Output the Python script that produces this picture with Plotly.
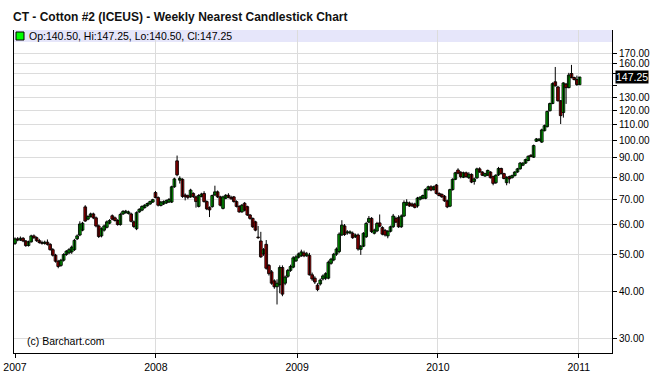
import math
import pandas as pd
import plotly.graph_objects as go

# ---- data: weekly nearest cotton futures ----
start_week = "2007-01-01"

open_prices = [
    53.5, 55.0, 54.6, 55.2, 54.3, 52.8, 54.0, 56.0, 55.4, 54.4, 53.8, 53.5, 53.9, 53.2, 51.5, 49.8, 48.0, 46.8, 48.3, 50.0,
    50.5, 50.8, 51.5, 55.0, 56.3, 58.0, 66.8, 62.0, 63.0, 64.0, 62.5, 59.5, 56.0, 58.0, 59.0, 60.5, 63.3, 62.5, 61.5, 60.0,
    64.0, 64.5, 64.2, 64.0, 61.0, 58.5, 64.8, 65.5, 66.5, 67.3, 68.0, 68.8,
    72.9, 70.7, 67.4, 68.0, 68.4, 68.8, 68.8, 75.5, 88.4, 78.6, 79.0, 71.8, 71.5, 71.0, 72.5, 71.0, 67.0, 71.2, 72.5, 69.0,
    66.5, 66.9, 71.8, 73.2, 71.0, 66.2, 70.4, 71.7, 70.8, 71.0, 69.0, 67.0, 64.8, 68.3, 66.9, 63.6, 62.3, 61.0, 55.6, 54.3,
    50.2, 53.2, 46.8, 45.0, 42.6, 41.1, 41.6, 46.2, 42.0, 43.8, 45.4, 46.3, 48.1,
    49.2, 49.6, 50.5, 49.6, 49.7, 44.2, 43.3, 41.5, 41.8, 43.1, 43.3, 43.3, 47.4, 48.4, 50.1, 50.9, 56.3, 59.5, 57.0, 57.0,
    56.9, 55.7, 56.3, 51.6, 52.6, 55.7, 60.9, 62.3, 56.9, 57.7, 60.6, 58.9, 57.9, 56.0, 57.6, 59.2, 62.3, 62.6, 59.2, 63.2,
    67.6, 68.4, 68.0, 68.0, 67.2, 70.0, 70.4, 70.4, 74.2, 75.5, 74.2, 76.3,
    72.5, 72.1, 71.3, 69.3, 67.1, 74.2, 79.0, 83.6, 82.5, 80.0, 82.2, 79.8, 81.4, 78.0, 79.7, 84.2, 82.6, 80.6, 81.0, 82.6,
    80.3, 77.4, 81.2, 84.4, 81.8, 77.4, 80.3, 79.8, 80.8, 82.6, 84.2, 86.1, 87.2, 88.6, 91.5, 90.4, 99.6, 100.0, 99.1, 106.2,
    108.8, 119.9, 125.3, 143.0, 138.6, 127.4, 118.6, 141.0, 138.0, 150.4, 146.8, 145.0, 140.5,
]
high_prices = [
    55.5, 55.6, 55.8, 55.6, 54.6, 54.4, 56.4, 56.5, 55.8, 55.0, 54.4, 54.4, 54.8, 53.6, 52.0, 50.2, 48.4, 48.7, 50.4, 51.4,
    52.0, 52.8, 55.0, 56.5, 61.2, 61.0, 67.5, 63.5, 64.5, 64.5, 63.0, 60.0, 59.0, 60.0, 61.5, 62.0, 63.8, 63.0, 62.0, 64.5,
    65.5, 65.6, 65.3, 64.5, 61.5, 65.0, 66.3, 67.4, 67.9, 68.6, 69.4, 70.2,
    73.6, 71.2, 69.3, 69.5, 69.9, 70.5, 76.0, 79.8, 91.3, 80.5, 79.5, 72.5, 72.0, 74.6, 73.0, 71.5, 72.2, 72.8, 73.5, 69.5,
    67.0, 72.0, 76.0, 73.8, 71.5, 71.5, 72.2, 72.6, 71.5, 71.4, 69.5, 67.5, 68.0, 68.8, 67.3, 64.0, 62.6, 61.4, 59.5, 57.4,
    52.0, 54.6, 47.2, 45.5, 43.0, 43.0, 46.8, 46.8, 44.0, 45.8, 47.0, 49.5, 49.8,
    50.6, 51.5, 51.2, 50.8, 50.5, 44.8, 43.8, 42.0, 43.2, 44.3, 44.9, 48.2, 49.0, 50.5, 52.2, 57.2, 61.6, 60.2, 58.0, 57.9,
    57.5, 56.8, 56.8, 53.0, 57.3, 61.0, 63.2, 62.8, 58.5, 61.0, 63.8, 59.4, 58.4, 58.0, 59.6, 64.0, 63.0, 63.5, 63.8, 69.5,
    70.0, 69.0, 68.6, 68.5, 71.0, 71.3, 72.0, 74.8, 76.0, 76.2, 76.0, 76.8,
    73.0, 72.5, 71.8, 69.8, 74.6, 79.5, 82.7, 84.5, 83.0, 82.8, 82.8, 82.5, 81.9, 79.8, 84.8, 85.0, 83.0, 82.2, 83.8, 83.0,
    80.8, 81.5, 85.2, 84.8, 82.2, 80.5, 80.8, 81.3, 83.0, 84.7, 87.8, 87.7, 89.6, 91.4, 92.0, 97.6, 101.6, 101.5, 107.5, 110.2,
    120.0, 126.0, 142.5, 156.5, 139.2, 128.0, 142.6, 142.0, 151.0, 158.5, 147.5, 148.5, 147.25,
]
low_prices = [
    53.0, 54.2, 54.3, 53.9, 52.4, 52.5, 53.8, 55.0, 54.0, 53.4, 53.1, 53.1, 52.8, 51.2, 49.4, 47.6, 46.0, 46.4, 47.9, 49.6,
    50.1, 50.2, 51.1, 54.6, 55.9, 57.6, 61.0, 61.6, 62.6, 62.0, 59.0, 55.3, 55.5, 57.5, 58.6, 60.1, 61.6, 61.1, 59.6, 59.6,
    63.6, 64.1, 63.8, 60.8, 58.8, 58.0, 64.4, 65.1, 66.1, 66.9, 67.6, 68.4,
    70.4, 67.0, 67.0, 67.6, 68.0, 68.4, 68.4, 75.0, 80.5, 77.0, 70.6, 69.5, 70.0, 70.6, 70.5, 66.5, 66.6, 70.8, 68.6, 65.5,
    62.8, 66.5, 71.5, 70.5, 67.0, 65.8, 70.0, 70.4, 69.8, 68.6, 66.6, 64.5, 64.5, 65.0, 63.2, 61.8, 58.8, 57.6, 55.0, 49.0,
    49.6, 45.6, 44.0, 41.6, 40.6, 36.9, 39.5, 38.8, 41.5, 43.4, 45.0, 46.0, 47.8,
    48.8, 49.3, 49.2, 49.3, 44.0, 42.6, 41.8, 40.0, 41.4, 42.7, 42.8, 43.0, 47.0, 48.0, 49.6, 50.4, 56.0, 56.0, 56.4, 56.6,
    55.0, 55.3, 51.2, 49.9, 52.3, 55.3, 60.5, 57.0, 56.5, 57.3, 59.0, 56.2, 55.8, 55.2, 57.2, 58.8, 60.5, 58.8, 58.8, 62.8,
    67.2, 66.8, 66.8, 66.2, 66.5, 69.5, 70.0, 70.0, 73.8, 73.5, 73.8, 72.0,
    71.2, 70.6, 68.9, 66.3, 66.7, 73.8, 78.6, 81.5, 79.5, 79.6, 79.8, 79.2, 77.2, 76.5, 79.3, 82.2, 80.6, 80.2, 80.6, 79.4,
    76.2, 76.8, 80.6, 81.4, 79.0, 76.2, 77.0, 79.4, 80.4, 82.2, 83.8, 85.6, 86.8, 88.2, 90.4, 90.0, 99.2, 99.6, 98.6, 105.8,
    108.4, 119.4, 124.8, 139.0, 126.8, 110.6, 115.0, 125.0, 137.5, 146.0, 144.2, 139.5, 140.5,
]
close_prices = [
    55.0, 54.6, 55.2, 54.3, 52.8, 54.0, 56.0, 55.4, 54.4, 53.8, 53.5, 53.9, 53.2, 51.5, 49.8, 48.0, 46.5, 48.3, 50.0, 51.0,
    51.5, 52.3, 54.5, 56.0, 60.2, 60.5, 61.3, 63.0, 64.0, 62.5, 59.5, 55.8, 58.5, 59.5, 61.0, 61.5, 62.0, 61.5, 60.0, 63.8,
    65.0, 65.1, 64.8, 61.2, 59.3, 64.5, 65.8, 67.0, 67.5, 68.2, 69.0, 69.8,
    70.7, 67.5, 68.8, 69.0, 69.4, 69.9, 75.5, 79.2, 81.2, 79.5, 71.2, 71.0, 70.8, 74.0, 71.2, 69.0, 71.6, 72.2, 69.0, 66.0,
    65.6, 71.6, 73.2, 71.0, 67.5, 71.0, 71.7, 70.8, 70.2, 69.0, 67.0, 64.8, 67.5, 65.5, 63.6, 62.3, 59.2, 58.0, 55.4, 49.3,
    51.5, 46.0, 44.5, 42.0, 41.1, 42.0, 46.2, 39.3, 43.6, 45.4, 46.5, 49.0, 49.3,
    50.2, 50.8, 49.6, 50.2, 44.2, 43.1, 42.3, 40.4, 42.8, 43.9, 44.5, 47.7, 48.6, 50.1, 51.7, 56.6, 59.8, 56.5, 57.4, 57.4,
    55.4, 56.3, 51.7, 52.6, 56.9, 60.4, 62.3, 57.5, 58.0, 60.4, 59.4, 56.6, 56.3, 57.6, 59.2, 63.2, 60.9, 59.2, 63.2, 68.6,
    68.7, 67.2, 67.2, 66.6, 70.5, 70.9, 71.6, 74.3, 75.5, 74.0, 75.5, 72.5,
    71.6, 71.0, 69.3, 66.8, 74.2, 79.0, 82.2, 82.0, 80.3, 82.2, 80.3, 81.5, 77.7, 79.2, 84.2, 82.6, 81.0, 81.8, 83.4, 79.8,
    77.1, 81.0, 84.4, 81.8, 79.4, 80.0, 79.2, 80.8, 82.6, 84.2, 87.2, 87.2, 89.1, 90.9, 90.8, 97.0, 101.0, 100.9, 106.7, 109.5,
    119.4, 125.3, 141.4, 139.5, 127.4, 116.4, 142.0, 138.0, 149.0, 146.8, 145.0, 140.6, 147.25,
]

year_ticks = ["2007-01-01", "2008-01-01", "2009-01-01", "2010-01-01", "2011-01-01"]
year_labels = ["2007", "2008", "2009", "2010", "2011"]
price_ticks = [30, 40, 50, 60, 70, 80, 90, 100, 110, 120, 130, 140, 150, 160, 170]
price_labels = ["30.00", "40.00", "50.00", "60.00", "70.00", "80.00", "90.00", "100.00",
                "110.00", "120.00", "130.00", "", "", "160.00", "170.00"]
last_price = 147.25
legend_text = "Op:140.50, Hi:147.25, Lo:140.50, Cl:147.25"
title_text = "CT - Cotton #2 (ICEUS) - Weekly Nearest Candlestick Chart"

dates = pd.date_range(start_week, periods=len(close_prices), freq="7D")

FONT = "Liberation Sans"
UP, DOWN = "#00FF00", "#FF0000"

# wicks (high-low) as one line trace
wick_x, wick_y = [], []
for d, lo, hi in zip(dates, low_prices, high_prices):
    wick_x += [d, d, None]
    wick_y += [lo, hi, None]

body_base = [min(o, c) for o, c in zip(open_prices, close_prices)]
body_size = [max(abs(c - o), 0.08) for o, c in zip(open_prices, close_prices)]
body_color = [UP if c >= o else DOWN for o, c in zip(open_prices, close_prices)]

fig = go.Figure()
fig.add_trace(go.Scatter(x=wick_x, y=wick_y, mode="lines",
                         line=dict(color="black", width=1),
                         showlegend=False, hoverinfo="skip"))
fig.add_trace(go.Bar(x=dates, y=body_size, base=body_base,
                     width=7 * 86400000,
                     marker=dict(color=body_color, line=dict(color="black", width=0.9)),
                     showlegend=False, hoverinfo="skip"))

W, H = 656, 373
ml, mr, mt, mb = 14, 44, 30, 20
pw, ph = W - ml - mr, H - mt - mb

fig.update_layout(
    width=W, height=H,
    margin=dict(l=ml, r=mr, t=mt, b=mb, pad=0, autoexpand=False),
    paper_bgcolor="white", plot_bgcolor="white",
    bargap=0,
    xaxis=dict(type="date", range=["2006-12-29 10:00", "2011-03-28"],
               tickvals=year_ticks, ticktext=year_labels,
               ticks="outside", ticklen=4, tickcolor="black",
               showline=True, linecolor="black", linewidth=1,
               showgrid=True, gridcolor="#dcdcdc", gridwidth=1, zeroline=False,
               automargin=False,
               tickfont=dict(family=FONT, size=10.5, color="black"),
               rangeslider=dict(visible=False)),
    yaxis=dict(type="log", side="right", range=[1.4388, 2.2922],
               tickvals=price_ticks, ticktext=price_labels,
               ticks="outside", ticklen=4, tickcolor="black",
               showline=True, linecolor="black", linewidth=1, mirror=True,
               showgrid=True, gridcolor="#dcdcdc", gridwidth=1, zeroline=False,
               automargin=False,
               tickfont=dict(family=FONT, size=10, color="black")),
)

# title
fig.add_annotation(text=f"<b>{title_text}</b>", xref="paper", yref="paper",
                   x=-3 / pw, xanchor="left", y=1 + 13 / ph, yanchor="middle",
                   showarrow=False, font=dict(family=FONT, size=12, color="#111111"))

# legend band at top of the plot area
band_h = 12 / ph
fig.add_shape(type="rect", xref="paper", yref="paper", x0=0, x1=1, y0=1 - band_h, y1=1,
              fillcolor="#E6E6FA", line=dict(width=0), layer="below")
fig.add_shape(type="rect", xref="paper", yref="paper",
              x0=2 / pw, x1=10 / pw, y0=1 - 10 / ph, y1=1 - 2 / ph,
              fillcolor=UP, line=dict(color="black", width=1))
fig.add_annotation(text=legend_text, xref="paper", yref="paper",
                   x=13 / pw, xanchor="left", y=1 - 6 / ph, yanchor="middle",
                   showarrow=False, font=dict(family=FONT, size=10.5, color="black"))

# last price marker
fig.add_annotation(text=f"{last_price:.2f}", xref="paper", yref="y",
                   x=1, xanchor="left", xshift=3, y=math.log10(last_price), yanchor="middle",
                   showarrow=False, bgcolor="black", borderpad=0,
                   font=dict(family=FONT, size=10.5, color="white"))

# copyright
fig.add_annotation(text="(c) Barchart.com", xref="paper", yref="paper",
                   x=11 / pw, xanchor="left", y=12 / ph, yanchor="middle",
                   showarrow=False, font=dict(family=FONT, size=10.5, color="black"))

fig.write_html("out.html", config={"displayModeBar": False, "staticPlot": True},
               post_script="document.body.style.margin='0';")
